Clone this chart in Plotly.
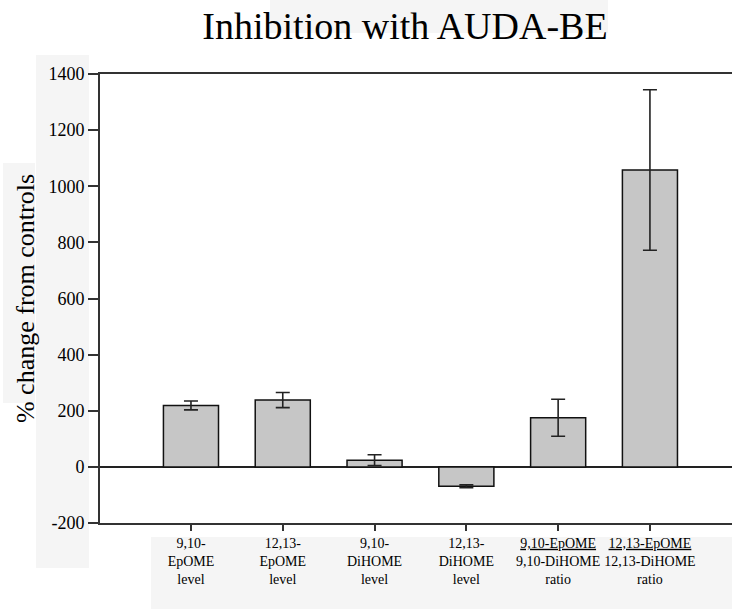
import plotly.graph_objects as go

categories = [
    "9,10-<br>EpOME<br>level",
    "12,13-<br>EpOME<br>level",
    "9,10-<br>DiHOME<br>level",
    "12,13-<br>DiHOME<br>level",
    "<span style='text-decoration:underline'>9,10-EpOME</span><br>9,10-DiHOME<br>ratio",
    "<span style='text-decoration:underline'>12,13-EpOME</span><br>12,13-DiHOME<br>ratio",
]
values = [219, 238, 24, -69, 175, 1058]
errors = [16, 27, 19, 5, 66, 286]
y_ticks = [-200, 0, 200, 400, 600, 800, 1000, 1200, 1400]
y_tick_text = ["-200", "0", "200", "400", "600", "800", "1000", "1200", "1400"]

W, H = 732, 609
L, R, T, B = 100, 0, 74, 86
PW, PH = W - L - R, H - T - B

def px2paper(x0, y0, x1, y1):
    return dict(x0=(x0 - L) / PW, x1=(x1 - L) / PW,
                y0=(H - B - y0) / PH, y1=(H - B - y1) / PH)

FONT = "Liberation Serif"

fig = go.Figure()
fig.add_trace(go.Bar(
    x=list(range(len(categories))),
    y=values,
    width=0.6,
    marker=dict(color="#c6c6c6", line=dict(color="#111111", width=1.5)),
    error_y=dict(type="data", array=errors, visible=True,
                 color="#222222", thickness=1.6, width=7),
))

shapes = []
for (x0, y0, x1, y1) in [(270, 0, 608, 33), (36, 55, 89, 568),
                         (3, 163, 35, 403), (151, 537, 732, 609)]:
    s = dict(type="rect", xref="paper", yref="paper", layer="below",
             fillcolor="#f5f5f5", line=dict(width=0))
    s.update(px2paper(x0, y0, x1, y1))
    shapes.append(s)

fig.update_layout(
    width=W, height=H,
    margin=dict(l=L, r=R, t=T, b=B),
    paper_bgcolor="white", plot_bgcolor="rgba(0,0,0,0)",
    showlegend=False,
    font=dict(family=FONT, color="black"),
    title=dict(text="Inhibition with AUDA-BE", x=405 / W, xanchor="center",
               xref="container", yref="container", y=(H - 26) / H,
               yanchor="middle", font=dict(size=38, family=FONT, color="black")),
    shapes=shapes,
    bargap=0.4,
)
fig.update_xaxes(
    tickmode="array", tickvals=list(range(len(categories))), ticktext=categories,
    range=[-0.991, 5.894], showline=True, linecolor="#333333", linewidth=2,
    mirror=True, ticks="outside", ticklen=6, tickwidth=1.5, tickcolor="#333333",
    showgrid=False, zeroline=False, tickfont=dict(size=14, family=FONT, color="black"),
)
fig.update_yaxes(
    range=[-200, 1400], tickmode="array", tickvals=y_ticks, ticktext=y_tick_text,
    showline=True, linecolor="#333333",
    linewidth=2, ticks="outside", ticklen=10, tickwidth=1.5, tickcolor="#333333",
    showgrid=False, zeroline=True, zerolinecolor="#222222", zerolinewidth=1.5,
    tickfont=dict(size=18, family=FONT, color="black"),
    title=dict(text="% change from controls", standoff=6,
               font=dict(size=26, family=FONT, color="black")),
)

fig.write_html("out.html", config={"displayModeBar": False},
               post_script="document.body.style.margin='0';")
